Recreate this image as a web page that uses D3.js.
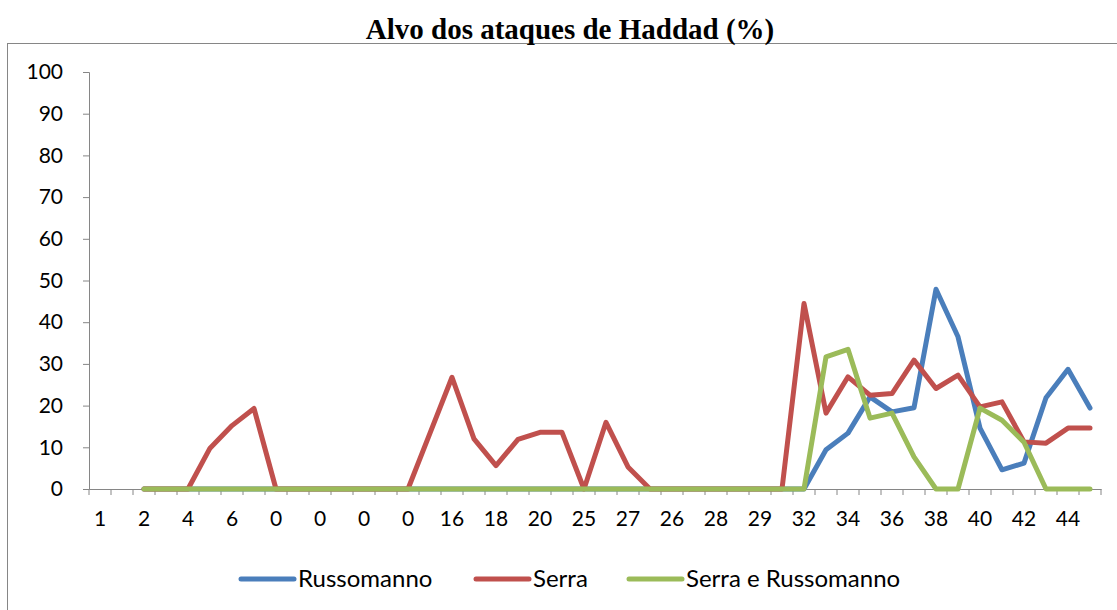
<!DOCTYPE html>
<html>
<head>
<meta charset="utf-8">
<script src="https://cdn.jsdelivr.net/npm/d3@7"></script>
<style>
  body { margin: 0; background: #fff; }
  svg { display: block; }
  .tick text { font-family: Lato, "Open Sans", sans-serif; fill: #000; }
</style>
</head>
<body>
<div id="viz"></div>
<script>
// category labels (only every other one is shown)
var cats = ["1","1","2","3","4","5","6","7","0","0","0","0","0","0","0","0",
            "16","17","18","19","20","21","25","26","27","25","26","27","28","28","29","31",
            "32","33","34","35","36","37","38","39","40","41","42","43","44","45"];

var russomanno = [null,null,0,0,0,0,0,0,0,0,0,0,0,0,0,0,
                  0,0,0,0,0,0,0,0,0,0,0,0,0,0,0,0,
                  0,9.4,13.4,22.1,18.5,19.5,47.9,36.5,14.6,4.6,6.2,21.9,28.7,19.4];

var serra = [null,null,0,0,0,9.8,15.2,19.3,0,0,0,0,0,0,0,13.4,
             26.8,12.0,5.6,11.9,13.6,13.6,0,16.0,5.3,0,0,0,0,0,0,0,
             44.5,18.2,26.9,22.5,22.9,30.9,24.1,27.3,19.7,20.9,11.3,11.0,14.6,14.6];

var serraRusso = [null,null,0,0,0,0,0,0,0,0,0,0,0,0,0,0,
                  0,0,0,0,0,0,0,0,0,0,0,0,0,0,0,0,
                  0,31.7,33.5,17.0,18.2,7.7,0,0,19.4,16.5,11.2,0,0,0];

var seriesNames = ["Russomanno", "Serra", "Serra e Russomanno"];
var seriesColors = ["#4a7ebb", "#c0504d", "#9bbb59"];
var yTicks = [0,10,20,30,40,50,60,70,80,90,100];

var width = 1117, height = 610;
var margin = {top: 72, right: 16, bottom: 121, left: 89};

var svg = d3.select('#viz').append('svg')
  .attr('width', width)
  .attr('height', height);

// outer chart frame
svg.append('rect')
  .attr('x', 7.5).attr('y', 43.5)
  .attr('width', 1130).attr('height', 600)
  .attr('fill', 'none')
  .attr('stroke', '#868686')
  .attr('stroke-width', 1);

svg.append('text')
  .attr('x', 570).attr('y', 39)
  .attr('text-anchor', 'middle')
  .style('font-family', '"Liberation Serif", "Times New Roman", serif')
  .style('font-weight', 'bold')
  .style('font-size', '29px')
  .text('Alvo dos ataques de Haddad (%)');

var idx = d3.range(cats.length);

var x = d3.scaleBand()
  .domain(idx)
  .range([margin.left, width - margin.right]);

var y = d3.scaleLinear()
  .domain([0, 100])
  .range([height - margin.bottom, margin.top]);

// y axis
var yAxis = svg.append('g')
  .attr('transform', 'translate(' + margin.left + ',0)')
  .call(d3.axisLeft(y).tickValues(yTicks).tickSize(6).tickPadding(20));
yAxis.selectAll('path, line').attr('stroke', '#868686');
yAxis.selectAll('text').style('font-size', '21px');

// x axis labels, every other category
var xAxis = svg.append('g')
  .attr('transform', 'translate(0,' + y(0) + ')')
  .call(d3.axisBottom(x)
    .tickValues(idx.filter(function(i) { return i % 2 === 0; }))
    .tickFormat(function(i) { return cats[i]; })
    .tickSize(0).tickPadding(22).tickSizeOuter(0));
xAxis.select('.domain').attr('stroke', '#868686');
xAxis.selectAll('text').style('font-size', '21px');

// tick marks between categories
var bounds = idx.map(function(i) { return x(i); }).concat([x.range()[1]]);
svg.append('g').selectAll('line')
  .data(bounds)
  .enter().append('line')
  .attr('x1', function(d) { return d; })
  .attr('x2', function(d) { return d; })
  .attr('y1', y(0))
  .attr('y2', y(0) + 6)
  .attr('stroke', '#868686');

var line = d3.line()
  .defined(function(d) { return d != null; })
  .x(function(d, i) { return x(i) + x.bandwidth() / 2; })
  .y(function(d) { return y(d); });

[russomanno, serra, serraRusso].forEach(function(s, k) {
  svg.append('path')
    .datum(s)
    .attr('fill', 'none')
    .attr('stroke', seriesColors[k])
    .attr('stroke-width', 5)
    .attr('stroke-linejoin', 'round')
    .attr('stroke-linecap', 'round')
    .attr('d', line);
});

// legend
var legendX = [241, 476, 629];
var legend = svg.append('g');
seriesNames.forEach(function(name, k) {
  legend.append('line')
    .attr('x1', legendX[k]).attr('x2', legendX[k] + 53)
    .attr('y1', 579).attr('y2', 579)
    .attr('stroke', seriesColors[k])
    .attr('stroke-width', 5)
    .attr('stroke-linecap', 'round');
  legend.append('text')
    .attr('x', legendX[k] + 57).attr('y', 587)
    .style('font-family', 'Lato, "Open Sans", sans-serif')
    .style('font-size', '24px')
    .text(name);
});
</script>
</body>
</html>
